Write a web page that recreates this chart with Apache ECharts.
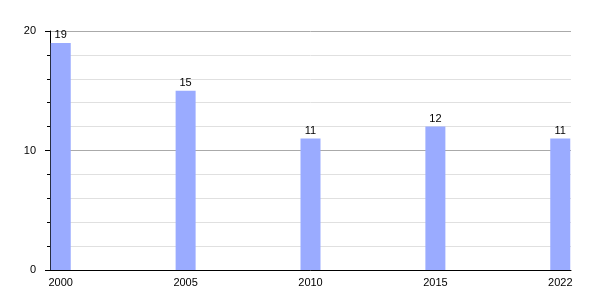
<!DOCTYPE html>
<html><head><meta charset="utf-8">
<script src="https://cdn.jsdelivr.net/npm/echarts@6/dist/echarts.min.js"></script>
<style>html,body{margin:0;padding:0;background:#fff}#c{width:600px;height:300px}</style>
</head><body><div id="c"></div>
<script>
const categories = ['2000', '2005', '2010', '2015', '2022'];
const values = [19, 15, 11, 12, 11];
const yTicks = [0, 10, 20];

const chart = echarts.init(document.getElementById('c'), null, {renderer: 'canvas'});
const font = 'Liberation Sans, Arial, sans-serif';
chart.setOption({
  animation: false,
  grid: {left: 50, right: 29, top: 31, bottom: 30},
  xAxis: {
    type: 'value', min: -0.086, max: 4.086,
    axisLine: {show: true, onZero: false, lineStyle: {color: '#000', width: 1}},
    axisTick: {show: false},
    splitLine: {show: false},
    axisLabel: {
      customValues: categories.map((c, i) => i),
      formatter: v => categories[Math.round(v)],
      color: '#000', fontSize: 11, fontFamily: font, margin: 7
    }
  },
  yAxis: {
    type: 'value', min: yTicks[0], max: yTicks[yTicks.length - 1], interval: 10,
    axisLine: {show: true, onZero: false, lineStyle: {color: '#000', width: 1}},
    axisTick: {show: true, inside: false, length: 5, lineStyle: {color: '#000'}},
    minorTick: {show: true, splitNumber: 5, length: 3, lineStyle: {color: '#000'}},
    splitLine: {show: true, lineStyle: {color: '#aaa', width: 1}},
    minorSplitLine: {show: true, lineStyle: {color: '#e0e0e0', width: 1}},
    axisLabel: {color: '#000', fontSize: 11, fontFamily: font, margin: 14}
  },
  series: [{
    type: 'bar',
    barWidth: 20,
    z: 1,
    data: values.map((v, i) => [i, v]),
    itemStyle: {color: '#9aabff'},
    label: {show: true, position: 'top', distance: 2, color: '#000', fontSize: 11, fontFamily: font}
  }]
});
</script></body></html>
